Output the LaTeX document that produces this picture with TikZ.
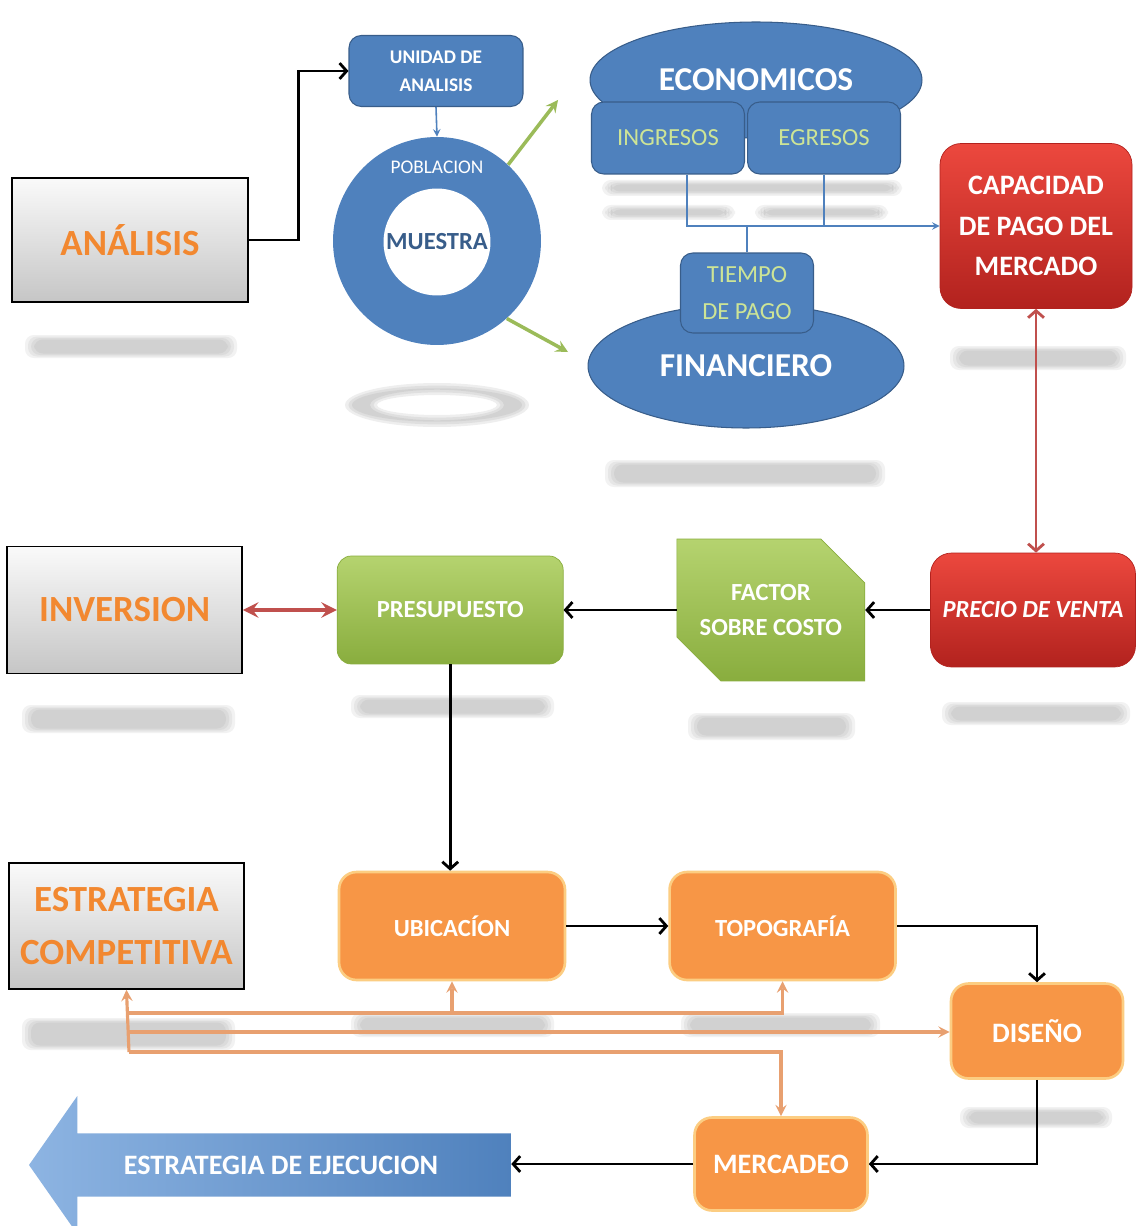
\documentclass[tikz,border=0pt]{standalone}
\usepackage{fontspec}
\setmainfont{Carlito}
\usepackage{tikz}
\usetikzlibrary{shapes.geometric, shapes.misc, shapes.arrows, arrows, arrows.meta, positioning, calc}

\definecolor{blueC}{RGB}{79,129,189}
\definecolor{blueD}{RGB}{56,93,138}
\definecolor{blueL}{RGB}{141,180,226}
\definecolor{greenT}{RGB}{181,211,111}
\definecolor{greenB}{RGB}{137,173,62}
\definecolor{greenTxt}{RGB}{205,228,150}
\definecolor{greenA}{RGB}{155,187,89}
\definecolor{redT}{RGB}{236,72,62}
\definecolor{redB}{RGB}{178,34,30}
\definecolor{redA}{RGB}{192,80,77}
\definecolor{orangeC}{RGB}{247,150,70}
\definecolor{orangeT}{RGB}{242,136,48}
\definecolor{orangeL}{RGB}{232,160,112}
\definecolor{glowC}{RGB}{252,205,130}

% blurred grey reflection under a box
\newcommand{\reflbar}[4]{%
  \foreach \s in {0,3,6,9}{%
    \fill[gray, opacity=0.1, rounded corners=5pt] (#1+\s,#2+0.5*\s) rectangle (#3-\s,#4-0.5*\s);}}

\begin{document}
\begin{tikzpicture}[
    x=0.02cm, y=-0.02cm,
    graybox/.style={rectangle, draw=black, line width=0.9pt, top color=gray!4, bottom color=gray!45, text=orangeT, font=\fontsize{21}{30}\selectfont\bfseries, align=center, inner sep=0pt},
    bluebox/.style={rectangle, rounded corners=7pt, fill=blueC, draw=blueD, line width=0.6pt, text=white, align=center, inner sep=0pt},
    blueoval/.style={ellipse, fill=blueC, draw=blueD, line width=0.6pt, text=white, inner sep=0pt, font=\fontsize{19}{22}\selectfont\bfseries},
    greenbox/.style={rectangle, rounded corners=8pt, top color=greenT, bottom color=greenB, draw=greenB, text=white, align=center, inner sep=0pt, font=\fontsize{14}{20}\selectfont\bfseries},
    redbox/.style={rectangle, rounded corners=12pt, top color=redT, bottom color=redB, draw=redB, text=white, align=center, inner sep=0pt},
    orangebox/.style={rectangle, rounded corners=10pt, fill=orangeC, draw=glowC, line width=1.5pt, text=white, align=center, inner sep=0pt, font=\fontsize{14}{20}\selectfont\bfseries},
    arrow/.style={line width=1.6pt, ->, >={Straight Barb[length=4pt, width=9pt]}},
    redarrow/.style={line width=1.6pt, <->, >={Straight Barb[length=4pt, width=9pt]}, draw=redA},
    bline/.style={line width=0.9pt, draw=blueC},
    garrow/.style={line width=2pt, ->, >=stealth, draw=greenA},
    oarrow/.style={line width=1.8pt, ->, >=stealth, draw=orangeL}
]
    \useasboundingbox (0,0) rectangle (1136,1226);
    \fill[white] (0,0) rectangle (1136,1226);

    % reflections
    \reflbar{25}{335}{237}{358}
    \reflbar{602}{180}{902}{196}
    \reflbar{602}{205}{735}{220}
    \reflbar{755}{205}{888}{220}
    \reflbar{605}{460}{885}{487}
    \reflbar{950}{346}{1126}{370}
    \reflbar{22}{705}{235}{733}
    \reflbar{351}{695}{554}{718}
    \reflbar{688}{713}{855}{740}
    \reflbar{942}{702}{1130}{725}
    \reflbar{22}{1018}{235}{1050}
    \reflbar{351}{1013}{554}{1037}
    \reflbar{681}{1013}{880}{1037}
    \reflbar{960}{1107}{1112}{1128}
    \foreach \s in {0,1,2}{
      \fill[gray, opacity=0.13, even odd rule] (437,405) ellipse [x radius=1.84cm-\s*2pt, y radius=0.44cm-\s*1.5pt] (437,405) ellipse [x radius=1.2cm+\s*2pt, y radius=0.2cm+\s*1.5pt];}

    % analysis row
    \node[graybox, minimum width=4.72cm, minimum height=2.48cm] (ana) at (130,240) {ANÁLISIS};
    \node[bluebox, minimum width=3.48cm, minimum height=1.42cm, font=\fontsize{11}{16}\selectfont\bfseries] (unidad) at (436,71) {UNIDAD DE\\ANALISIS};
    \node[circle, fill=blueC, minimum size=4.16cm] (ring) at (437,241) {};
    \node[circle, fill=white, minimum size=2.14cm, inner sep=0pt, text=blueD, font=\fontsize{14}{16}\selectfont\bfseries] (muestra) at (437,242) {MUESTRA};
    \node[text=white, font=\fontsize{11}{13}\selectfont] (pobl) at (437,167) {POBLACION};

    \node[blueoval, minimum width=6.64cm, minimum height=2.32cm] (eco) at (756,80) {ECONOMICOS};
    \node[bluebox, minimum width=3.06cm, minimum height=1.44cm, text=greenTxt, font=\fontsize{14}{16}\selectfont] (ingresos) at (668,138) {INGRESOS};
    \node[bluebox, minimum width=3.06cm, minimum height=1.44cm, text=greenTxt, font=\fontsize{14}{16}\selectfont, right=0.04cm of ingresos] (egresos) {EGRESOS};
    \node[blueoval, minimum width=6.32cm, minimum height=2.48cm] (finan) at (746,366) {FINANCIERO};
    \node[bluebox, minimum width=2.66cm, minimum height=1.6cm, text=greenTxt, font=\fontsize{14}{21}\selectfont] (tiempo) at (747,293) {TIEMPO\\DE PAGO};
    \node[redbox, minimum width=3.84cm, minimum height=3.3cm, font=\fontsize{16}{23}\selectfont\bfseries] (capac) at (1036,226) {CAPACIDAD\\DE PAGO DEL\\MERCADO};

    % price row
    \node[redbox, minimum width=4.1cm, minimum height=2.28cm, font=\fontsize{14}{16}\selectfont\bfseries\itshape] (precio) at (1033,610) {PRECIO DE VENTA};
    \node[chamfered rectangle, chamfered rectangle corners={north east, south west}, chamfered rectangle xsep=0.36cm, chamfered rectangle ysep=0.52cm, top color=greenT, bottom color=greenB, draw=greenB, text=white, align=center, inner sep=0pt, font=\fontsize{14}{20}\selectfont\bfseries, minimum width=3.76cm, minimum height=2.84cm, left=1.3cm of precio] (factor) {FACTOR\\SOBRE COSTO};
    \node[greenbox, minimum width=4.52cm, minimum height=2.16cm, left=2.26cm of factor] (presup) {PRESUPUESTO};
    \node[graybox, minimum width=4.7cm, minimum height=2.54cm, left=1.88cm of presup] (inver) {INVERSION};

    % strategy row
    \node[orangebox, minimum width=4.52cm, minimum height=2.16cm] (ubic) at (452,926) {UBICACÍON};
    \node[orangebox, minimum width=4.52cm, minimum height=2.16cm, right=2.04cm of ubic] (topo) {TOPOGRAFÍA};
    \node[graybox, minimum width=4.7cm, minimum height=2.52cm, left=1.86cm of ubic] (comp) {ESTRATEGIA\\COMPETITIVA};
    \node[orangebox, minimum width=3.44cm, minimum height=1.9cm, font=\fontsize{16}{18}\selectfont\bfseries] (diseno) at (1037,1031) {DISEÑO};
    \node[orangebox, minimum width=3.46cm, minimum height=1.86cm, font=\fontsize{16}{18}\selectfont\bfseries] (merca) at (781,1164) {MERCADEO};
    \node[single arrow, shape border rotate=180, single arrow tip angle=110, single arrow head extend=0.73cm, minimum height=9.64cm, minimum width=2.76cm, inner xsep=0pt, inner ysep=12pt, left color=blueL, right color=blueC, text=white, font=\fontsize{16}{18}\selectfont\bfseries] (ejec) at (281,1165) {ESTRATEGIA DE EJECUCION};

    % connectors
    \draw[arrow] (ana.east) -- ++(50,0) |- (unidad.west);
    \draw[bline, ->, >=stealth] (unidad.south) -- (ring.north);
    \coordinate (g1) at (558,100);
    \coordinate (g2) at (568,352);
    \draw[garrow] (ring.47) -- (g1);
    \draw[garrow] (ring.-48) -- (g2);
    \draw[bline, ->, >=stealth] ([xshift=0.38cm]ingresos.south) |- (capac.west);
    \draw[bline] (egresos.south) -- (egresos.south |- capac.west);
    \draw[bline] (tiempo.north) -- (tiempo.north |- capac.west);

    \draw[redarrow] (capac.south) -- (capac.south |- precio.north);
    \draw[arrow] (precio.west) -- (factor.east);
    \draw[arrow] (factor.west) -- (presup.east);
    \draw[line width=2.8pt, <->, >=stealth, draw=redA] (inver.east) -- (inver.east -| presup.west);
    \draw[arrow] (presup.south) -- (presup.south |- ubic.north);
    \draw[arrow] (ubic.east) -- (topo.west);
    \draw[arrow] (topo.east) -| (diseno.north);
    \draw[arrow] (diseno.south) |- (merca.east);
    \draw[arrow] (merca.west) -- (merca.west -| ejec.tail);

    \coordinate (oa) at (129,1013);
    \coordinate (ob) at (129,1032);
    \coordinate (oc) at (129,1052);
    \draw[oarrow] (oc) -- (comp.south);
    \draw[oarrow] (oa) -| (ubic.south);
    \draw[oarrow] (oa) -| (topo.south);
    \draw[oarrow] (ob) -- (ob -| diseno.west);
    \draw[oarrow] (oc) -| (merca.north);

\end{tikzpicture}
\end{document}
